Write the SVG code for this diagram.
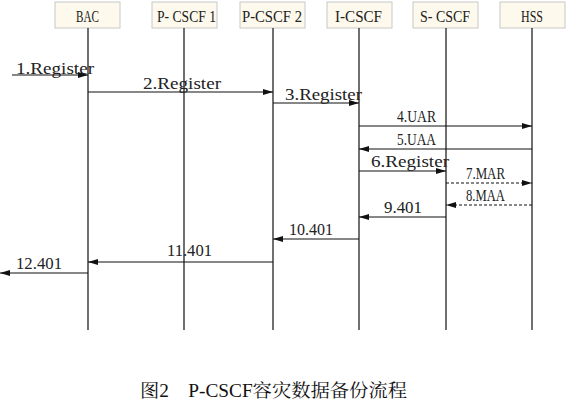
<svg xmlns="http://www.w3.org/2000/svg" width="567" height="400" viewBox="0 0 567 400">
<style>
.box{fill:#fdf9ec;stroke:#c8c8c8;stroke-width:1}
.name{font-family:"Liberation Serif","Noto Sans CJK SC",serif;font-size:16px;fill:#222}
.life{stroke:#333;stroke-width:1.4;fill:none}
.msg{stroke:#111;stroke-width:1.1;fill:none;marker-end:url(#ah)}
.dash{stroke-dasharray:3,2}
.lbl{font-family:"Liberation Serif","Noto Sans CJK SC",serif;font-size:16px;fill:#222}
.cap{font-family:"Liberation Serif","Noto Serif CJK SC","Noto Sans CJK SC",serif;font-size:18px;fill:#111}
</style>
<defs>
<marker id="ah" viewBox="0 0 10 6" refX="10" refY="3" markerWidth="10" markerHeight="6" markerUnits="userSpaceOnUse" orient="auto">
<path d="M0,0 L10,3 L0,6 Z" fill="#111"/>
</marker>
</defs>
<g id="node-bac"><rect class="box" x="55" y="2" width="65" height="26"/><text class="name" x="76" y="22" textLength="23" lengthAdjust="spacingAndGlyphs">BAC</text><line class="life" x1="88" y1="28" x2="88" y2="330"/></g>
<g id="node-pcscf1"><rect class="box" x="152" y="2" width="65" height="26"/><text class="name" x="157" y="22" textLength="59" lengthAdjust="spacingAndGlyphs">P- CSCF 1</text><line class="life" x1="184" y1="28" x2="184" y2="330"/></g>
<g id="node-pcscf2"><rect class="box" x="240" y="2" width="65" height="26"/><text class="name" x="242" y="22" textLength="60" lengthAdjust="spacingAndGlyphs">P-CSCF 2</text><line class="life" x1="273" y1="28" x2="273" y2="330"/></g>
<g id="node-icscf"><rect class="box" x="327" y="2" width="65" height="26"/><text class="name" x="335" y="22" textLength="47" lengthAdjust="spacingAndGlyphs">I-CSCF</text><line class="life" x1="359" y1="28" x2="359" y2="330"/></g>
<g id="node-scscf"><rect class="box" x="413" y="2" width="65" height="26"/><text class="name" x="420" y="22" textLength="50" lengthAdjust="spacingAndGlyphs">S- CSCF</text><line class="life" x1="446" y1="28" x2="446" y2="330"/></g>
<g id="node-hss"><rect class="box" x="500" y="2" width="65" height="26"/><text class="name" x="521" y="22" textLength="22" lengthAdjust="spacingAndGlyphs">HSS</text><line class="life" x1="532" y1="28" x2="532" y2="330"/></g>
<g id="connectors">
<line class="msg" x1="12" y1="75" x2="88" y2="75"/>
<line class="msg" x1="88" y1="92" x2="273" y2="92"/>
<line class="msg" x1="273" y1="103" x2="359" y2="103"/>
<line class="msg" x1="359" y1="126" x2="532" y2="126"/>
<line class="msg" x1="532" y1="149" x2="359" y2="149"/>
<line class="msg" x1="359" y1="171" x2="446" y2="171"/>
<line class="msg dash" x1="446" y1="183" x2="532" y2="183"/>
<line class="msg dash" x1="532" y1="205" x2="446" y2="205"/>
<line class="msg" x1="446" y1="217" x2="359" y2="217"/>
<line class="msg" x1="359" y1="239" x2="273" y2="239"/>
<line class="msg" x1="273" y1="262" x2="88" y2="262"/>
<line class="msg" x1="88" y1="273" x2="0" y2="273"/>
</g>
<g id="labels">
<text class="lbl" x="16" y="74" textLength="78" lengthAdjust="spacingAndGlyphs">1.Register</text>
<text class="lbl" x="143" y="89" textLength="78" lengthAdjust="spacingAndGlyphs">2.Register</text>
<text class="lbl" x="285" y="100" textLength="77" lengthAdjust="spacingAndGlyphs">3.Register</text>
<text class="lbl" x="397" y="122" textLength="39" lengthAdjust="spacingAndGlyphs">4.UAR</text>
<text class="lbl" x="397" y="145" textLength="39" lengthAdjust="spacingAndGlyphs">5.UAA</text>
<text class="lbl" x="371" y="167" textLength="78" lengthAdjust="spacingAndGlyphs">6.Register</text>
<text class="lbl" x="466" y="179" textLength="39" lengthAdjust="spacingAndGlyphs">7.MAR</text>
<text class="lbl" x="466" y="201" textLength="39" lengthAdjust="spacingAndGlyphs">8.MAA</text>
<text class="lbl" x="384" y="213" textLength="38" lengthAdjust="spacingAndGlyphs">9.401</text>
<text class="lbl" x="289" y="235" textLength="44" lengthAdjust="spacingAndGlyphs">10.401</text>
<text class="lbl" x="167" y="256" textLength="45" lengthAdjust="spacingAndGlyphs">11.401</text>
<text class="lbl" x="16" y="269" textLength="46" lengthAdjust="spacingAndGlyphs">12.401</text>
</g>
<text class="cap" x="140" y="397" textLength="267" lengthAdjust="spacingAndGlyphs">图2　P-CSCF容灾数据备份流程</text>
</svg>
